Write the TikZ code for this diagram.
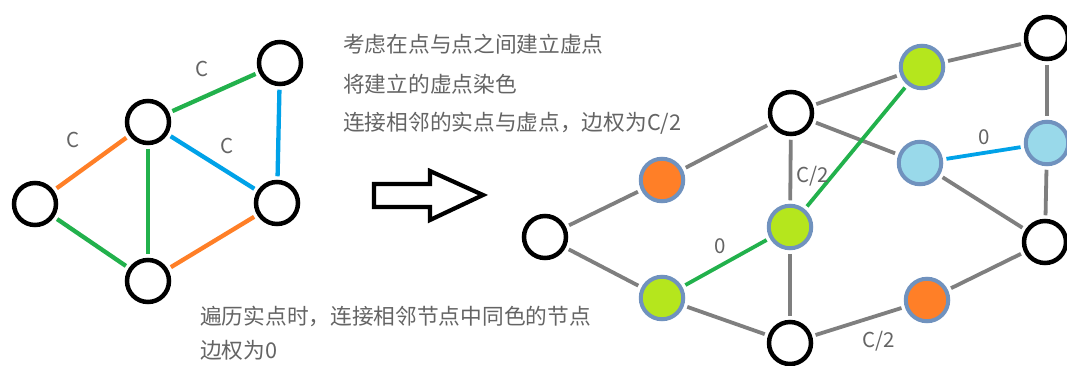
\documentclass[tikz,border=0pt]{standalone}
\usepackage{fontspec}
\newfontfamily\cjkfont{Noto Sans CJK SC}
\definecolor{eorange}{RGB}{255,127,39}
\definecolor{egreen}{RGB}{34,177,76}
\definecolor{eblue}{RGB}{0,162,232}
\definecolor{vlime}{RGB}{181,230,29}
\definecolor{vcyan}{RGB}{153,217,234}
\definecolor{vborder}{RGB}{112,146,190}
\definecolor{egray}{RGB}{127,127,127}
\definecolor{tgray}{RGB}{100,100,100}
\begin{document}
\begin{tikzpicture}[x=1pt,y=-1pt,
  real/.style={circle,draw=black,fill=white,line width=4.5pt,minimum size=42pt,inner sep=0pt},
  virt/.style={circle,draw=vborder,line width=4pt,minimum size=42.5pt,inner sep=0pt},
  link/.style={line width=4.3pt,shorten >=3.5pt,shorten <=3.5pt},
  glink/.style={link,egray,line width=3.8pt},
  txt/.style={anchor=west,inner sep=0pt,text=tgray,font=\cjkfont\fontsize{21.7}{26}\selectfont},
  lbl/.style={inner sep=0pt,text=tgray,font=\cjkfont\fontsize{20.5}{24}\selectfont}]
  \useasboundingbox(0,0) rectangle (1067,365);
  \node[real](a) at (35,204) {};
  \node[real](b) at (148,122) {};
  \node[real](c) at (280,63) {};
  \node[real](d) at (277,203) {};
  \node[real](e) at (148,281) {};
  \draw[link,eorange](a)--(b);
  \draw[link,egreen](b)--(c);
  \draw[link,eblue](b)--(d);
  \draw[link,eblue](c)--(d);
  \draw[link,egreen](b)--(e);
  \draw[link,egreen](a)--(e);
  \draw[link,eorange](e)--(d);
  \node[lbl](lab) at (73,140) {C};
  \node[lbl](lbc) at (202,69) {C};
  \node[lbl](lbd) at (227,146) {C};
  \draw[line width=4.2pt,line join=miter](374,184)--(430,184)--(430,171)--(483,195)--(430,220)--(430,207)--(374,207)--cycle;
  \node[txt](t1) at (343,44) {考虑在点与点之间建立虚点};
  \node[txt](t2) at (343,84) {将建立的虚点染色};
  \node[txt](t3) at (343,123) {连接相邻的实点与虚点，边权为C/2};
  \node[txt](t4) at (200,316) {遍历实点时，连接相邻节点中同色的节点};
  \node[txt](t5) at (200,350) {边权为0};
  \node[real](r1) at (545,237) {};
  \node[real](r2) at (791,113) {};
  \node[real](r3) at (1047,38) {};
  \node[real](r4) at (790,343) {};
  \node[real](r5) at (1045,242) {};
  \node[virt,fill=eorange](v1) at (662,180) {};
  \node[virt,fill=vlime](v2) at (662,298) {};
  \node[virt,fill=vlime](v3) at (790,227) {};
  \node[virt,fill=vlime](v4) at (922,67) {};
  \node[virt,fill=vcyan](v5) at (920,163) {};
  \node[virt,fill=vcyan](v6) at (1047,143) {};
  \node[virt,fill=eorange](v7) at (927,300) {};
  \draw[glink](r1)--(v1);
  \draw[glink](r1)--(v2);
  \draw[glink](v1)--(r2);
  \draw[glink](r2)--(v4);
  \draw[glink](v4)--(r3);
  \draw[glink](r2)--(v3);
  \draw[glink](r2)--(v5);
  \draw[glink](v3)--(r4);
  \draw[glink](v2)--(r4);
  \draw[glink](r4)--(v7);
  \draw[glink](v7)--(r5);
  \draw[glink](r3)--(v6);
  \draw[glink](v6)--(r5);
  \draw[glink](v5)--(r5);
  \draw[link,egreen,line width=3.8pt](v2)--(v3);
  \draw[link,egreen,line width=3.8pt](v3)--(v4);
  \draw[link,eblue,line width=3.8pt](v5)--(v6);
  \node[lbl](lr2) at (813,176) {C/2};
  \node[lbl](lr4) at (879,341) {C/2};
  \node[lbl](lv2) at (720,246) {0};
  \node[lbl](lv5) at (984,137) {0};
\end{tikzpicture}
\end{document}
